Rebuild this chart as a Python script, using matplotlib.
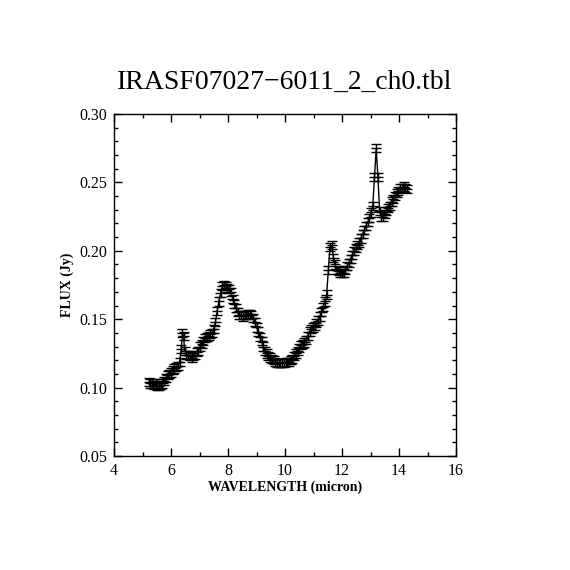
import matplotlib
matplotlib.use("Agg")
import matplotlib.pyplot as plt
from matplotlib.ticker import MultipleLocator

# Spectrum
wavelength = [
    5.22, 5.28, 5.34, 5.40, 5.46, 5.52, 5.58, 5.64, 5.70, 5.76, 5.82, 5.88, 5.94,
    6.00, 6.06, 6.12, 6.18, 6.24, 6.30, 6.36, 6.40, 6.44, 6.48, 6.54, 6.60, 6.66,
    6.72, 6.78, 6.84, 6.90, 6.96, 7.02, 7.08, 7.14, 7.20, 7.26, 7.32, 7.38, 7.44,
    7.50, 7.56, 7.62, 7.68, 7.74, 7.80, 7.86, 7.92, 7.98, 8.04, 8.10, 8.16, 8.22,
    8.28, 8.34, 8.40, 8.46, 8.52, 8.58, 8.64, 8.70, 8.76, 8.82, 8.88, 8.94, 9.00,
    9.06, 9.12, 9.18, 9.24, 9.30, 9.36, 9.42, 9.48, 9.54, 9.60, 9.66, 9.72, 9.78,
    9.84, 9.90, 9.96, 10.02, 10.08, 10.14, 10.20, 10.26, 10.32, 10.38, 10.44,
    10.50, 10.56, 10.62, 10.68, 10.74, 10.80, 10.86, 10.92, 10.98, 11.04, 11.10,
    11.16, 11.22, 11.28, 11.34, 11.40, 11.46, 11.52, 11.58, 11.64, 11.70, 11.76,
    11.82, 11.88, 11.94, 12.00, 12.06, 12.12, 12.18, 12.24, 12.30, 12.36, 12.42,
    12.48, 12.54, 12.60, 12.66, 12.72, 12.78, 12.84, 12.90, 12.96, 13.02, 13.08,
    13.14, 13.20, 13.26, 13.32, 13.38, 13.44, 13.50, 13.56, 13.62, 13.68, 13.74,
    13.80, 13.86, 13.92, 13.98, 14.04, 14.10, 14.16, 14.22, 14.28,
]
flux = [
    0.104, 0.103, 0.103, 0.102, 0.103, 0.101, 0.101, 0.102, 0.103, 0.105, 0.107, 0.109, 0.110,
    0.111, 0.113, 0.114, 0.115, 0.116, 0.119, 0.128, 0.140, 0.138, 0.127, 0.124, 0.124, 0.123,
    0.122, 0.123, 0.124, 0.126, 0.127, 0.130, 0.132, 0.134, 0.136, 0.137, 0.138, 0.139, 0.140,
    0.143, 0.148, 0.156, 0.163, 0.169, 0.174, 0.175, 0.174, 0.173, 0.172, 0.170, 0.165, 0.161,
    0.158, 0.155, 0.153, 0.153, 0.152, 0.153, 0.153, 0.154, 0.154, 0.153, 0.151, 0.148, 0.144,
    0.141, 0.137, 0.134, 0.130, 0.127, 0.125, 0.123, 0.122, 0.121, 0.120, 0.119, 0.118, 0.118,
    0.118, 0.118, 0.118, 0.119, 0.119, 0.119, 0.120, 0.121, 0.123, 0.125, 0.127,
    0.129, 0.131, 0.132, 0.133, 0.135, 0.138, 0.141, 0.143, 0.144, 0.145, 0.147,
    0.149, 0.152, 0.155, 0.159, 0.163, 0.168, 0.186, 0.203, 0.204, 0.195, 0.190,
    0.186, 0.185, 0.184, 0.184, 0.184, 0.186, 0.189, 0.191, 0.194, 0.197, 0.200,
    0.202, 0.204, 0.206, 0.209, 0.212, 0.215, 0.218, 0.221, 0.224, 0.228, 0.233,
    0.254, 0.275, 0.254, 0.229, 0.225, 0.225, 0.227, 0.229, 0.231, 0.233, 0.236,
    0.238, 0.240, 0.242, 0.244, 0.246, 0.246, 0.247, 0.246, 0.245,
]
flux_err = 0.003
wave_err = 0.18

plt.rcParams["font.family"] = ["Liberation Serif", "DejaVu Serif"]

fig = plt.figure(figsize=(5.7, 5.7), dpi=100)
ax = fig.add_axes([0.2, 0.2, 0.6, 0.6])

# connecting line + horizontal (wavelength) bars without caps
ax.errorbar(wavelength, flux, xerr=wave_err, color="black",
            linewidth=1.0, elinewidth=1.0, capsize=0)
# vertical (flux) bars with caps
ax.errorbar(wavelength, flux, yerr=flux_err, fmt="none", ecolor="black",
            elinewidth=1.0, capsize=3.8, capthick=1.0)

ax.set_xlim(4, 16)
ax.set_ylim(0.05, 0.30)
ax.xaxis.set_major_locator(MultipleLocator(2))
ax.xaxis.set_minor_locator(MultipleLocator(1))
ax.yaxis.set_major_locator(MultipleLocator(0.05))
ax.yaxis.set_minor_locator(MultipleLocator(0.01))
ax.yaxis.set_major_formatter(plt.FormatStrFormatter("%.2f"))
ax.tick_params(which="both", direction="in", top=True, right=True, width=1.0)
ax.tick_params(which="major", length=6, labelsize=11.5, pad=5)
ax.tick_params(which="minor", length=3)
for s in ax.spines.values():
    s.set_linewidth(1.0)

ax.set_xlabel("WAVELENGTH (micron)", fontsize=10, fontweight="bold", labelpad=1)
ax.set_ylabel("FLUX (Jy)", fontsize=10, fontweight="bold", labelpad=4)
fig.text(0.5, 0.855, "IRASF07027\u22126011_2_ch0.tbl", ha="center", va="center",
         fontsize=20)

fig.savefig("out.png", dpi=100)
